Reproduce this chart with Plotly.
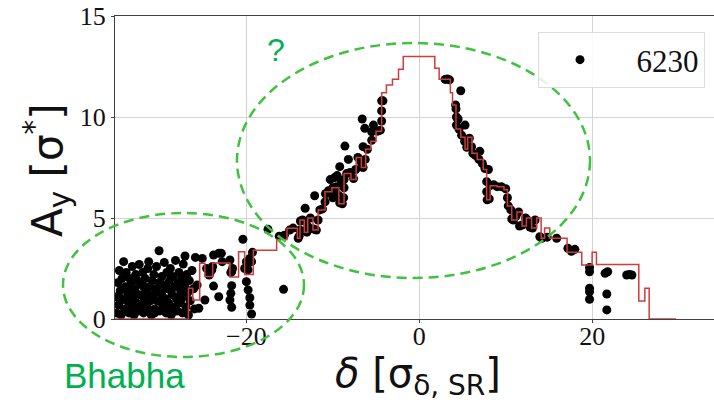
import plotly.graph_objects as go

# ---- data ----
x_ticks = [-20, 0, 20]
y_ticks = [0, 5, 10, 15]
legend_label = "6230"

# red staircase: left edge of each step and its level (line_shape = "hv")
step_delta = [-35.2, -26.7, -26.2, -25.4, -24.8, -23.9, -21.9, -20.9, -20.2, -19.2,
              -16.5, -15.3, -14.1, -13.8, -13.3, -12.9, -12.3, -11.7, -10.9, -10.1,
              -9.3, -8.7, -7.9, -7.3, -6.7, -6.2, -5.6, -5.0, -4.35, -3.8,
              -3.1, -2.4, -1.85, 1.8, 2.3, 3.6, 3.85, 4.25, 4.8, 5.3,
              5.6, 6.1, 6.7, 7.4, 7.8, 8.2, 9.0, 9.8, 10.2, 10.7,
              11.3, 11.9, 12.4, 13.0, 13.6, 14.1, 14.5, 15.1, 17.1, 18.8,
              20.0, 20.5, 25.4, 26.1, 26.6, 29.7]
step_ay = [0, 1.52, 0.94, 2.76, 2.1, 2.77, 2.08, 3.33, 2.2, 3.4,
           3.94, 4.49, 4.0, 4.9, 4.3, 5.0, 4.4, 5.4, 6.3, 6.5,
           5.7, 7.2, 6.9, 8.0, 7.5, 8.4, 8.8, 9.3, 11.2, 11.58,
           11.87, 12.36, 13.0, 12.41, 11.87, 11.2, 10.6, 9.4, 9.0, 8.4,
           9.0, 8.2, 7.9, 7.4, 5.9, 6.6, 6.55, 6.4, 5.6, 4.9,
           5.3, 4.6, 5.0, 4.5, 5.0, 4.0, 4.5, 4.0, 3.3, 2.67,
           3.3, 2.7, 0.89, 1.52, 0, 0]

# black points: Bhabha cluster (left)
bhabha_delta = [-35.0, -35.0, -34.9, -34.8, -34.7, -34.6, -34.5, -34.4, -34.2, -34.2,
                -34.1, -34.0, -33.9, -33.8, -33.7, -33.6, -33.5, -33.4, -33.3, -33.2,
                -33.1, -33.0, -32.9, -32.8, -32.7, -32.6, -32.5, -32.4, -32.3, -32.2,
                -32.1, -32.0, -31.9, -31.8, -31.7, -31.6, -31.5, -31.4, -31.3, -31.2,
                -31.1, -31.0, -30.9, -30.8, -30.7, -30.6, -30.5, -30.4, -30.3, -30.1,
                -30.1, -30.0, -29.9, -29.8, -29.7, -29.6, -29.5, -29.4, -29.3, -29.2,
                -29.1, -29.0, -28.9, -28.8, -28.7, -28.6, -28.5, -28.4, -28.3, -28.2,
                -28.1, -28.0, -27.9, -27.8, -27.7, -27.6, -27.5, -27.4, -27.3, -27.3,
                -27.2, -27.1, -27.0, -26.9, -26.8, -26.7, -26.6, -26.5, -26.3, -26.1,
                -26.0, -25.9, -25.7, -25.5, -25.1, -24.8, -24.3, -24.0, -23.8, -23.8,
                -23.2, -23.2, -22.9, -22.8, -21.9, -21.7, -21.7, -21.8, -21.9, -21.7,
                -20.0, -19.8, -20.0, -19.8, -19.6, -19.6, -19.4, -19.4, -20.4, -17.5,
                -15.7, -24.6, -24.2, -23.9, -21.8, -21.6, -20.2, -19.9, -19.6, -19.3,
                -34.6, -33.9, -33.0, -32.2, -31.4, -30.6, -29.8, -29.0, -28.2, -27.6,
                -34.3, -33.5, -32.7, -31.9, -31.1, -30.3, -29.5, -28.7, -27.9, -27.0]
bhabha_ay = [0.3, 1.1, 1.8, 0.7, 2.4, 1.4, 0.2, 2.0, 2.84, 1.0,
             0.5, 1.6, 2.3, 0.9, 1.3, 0.3, 2.0, 1.7, 0.6, 2.6,
             1.1, 0.2, 1.5, 2.2, 0.8, 1.9, 0.4, 2.7, 1.2, 0.7,
             1.7, 2.3, 0.3, 1.0, 2.0, 1.4, 0.6, 2.5, 2.84, 1.6,
             0.9, 0.2, 1.9, 1.2, 2.2, 0.5, 1.5, 2.6, 0.9, 3.38,
             1.8, 0.4, 1.3, 2.1, 0.7, 1.7, 2.8, 1.0, 0.3, 2.3,
             1.5, 0.8, 1.9, 2.5, 0.2, 1.2, 2.1, 0.6, 1.6, 2.9,
             1.0, 0.4, 1.8, 2.3, 0.8, 1.4, 2.0, 0.3, 2.72, 1.1,
             1.7, 3.12, 0.6, 2.2, 1.3, 0.2, 1.9, 0.9, 2.4, 1.5,
             0.5, 3.05, 1.68, 0.53, 3.0, 0.94, 2.18, 2.43, 3.17, 1.63,
             1.1, 3.25, 3.25, 2.84, 2.92, 2.34, 1.65, 1.27, 0.94, 0.58,
             2.84, 2.43, 1.85, 1.44, 1.05, 0.69, 0.25, 2.84, 3.95, 4.44,
             1.47, 2.5, 2.3, 2.6, 2.3, 2.5, 2.5, 2.7, 3.0, 3.3,
             0.9, 0.4, 1.3, 0.5, 1.1, 0.3, 1.2, 0.5, 0.4, 0.9,
             1.5, 0.9, 0.5, 1.6, 0.4, 1.4, 0.5, 1.4, 1.1, 1.5]

# black points following the staircase (central peak)
core_delta = [-16.2, -15.6, -15.0, -14.6, -14.0, -13.9, -13.8, -13.75, -13.5, -13.2,
              -13.0, -12.9, -12.6, -12.2, -11.9, -11.7, -11.5, -11.2, -10.9, -10.85,
              -10.5, -10.0, -9.6, -9.3, -9.2, -8.9, -8.75, -8.7, -8.7, -8.4,
              -8.0, -7.6, -7.35, -7.1, -6.7, -6.5, -6.25, -6.0, -5.5, -4.8,
              -4.5, -4.35, -4.35, -4.35, -6.6, -6.3, -5.3, -5.5, -8.6, -6.5,
              -8.2, -9.2, -12.1, -13.2, -4.2, -10.3, -9.8, -9.5, -9.0, -10.0,
              -9.6, 4.25, 4.3, 4.3, 4.5, 4.6, 4.9, 5.3, 5.25, 5.5,
              5.8, 6.05, 6.2, 6.5, 7.0, 6.9, 7.3, 7.6, 8.0, 7.8,
              7.8, 7.85, 8.1, 8.2, 8.6, 9.0, 9.5, 10.0, 10.2, 10.3,
              10.6, 10.7, 10.9, 11.2, 11.5, 11.6, 11.9, 12.3, 12.5, 12.8,
              13.1, 13.4, 13.95, 14.2, 14.8, 15.9, 17.2, 18.0, 17.6, 4.8,
              3.0, 3.25, 3.5, 4.2, 19.7, 19.7, 19.7, 19.7, 19.7, 21.5,
              21.8, 21.7, 21.7, 24.0, 24.6, 24.3]
core_ay = [4.1, 4.15, 4.4, 4.5, 4.0, 4.1, 4.4, 4.85, 4.9, 4.35,
           4.3, 4.6, 5.0, 4.45, 4.4, 4.9, 5.4, 5.45, 5.8, 6.2,
           6.35, 6.5, 6.55, 6.1, 5.75, 5.7, 6.0, 6.5, 6.9, 7.2,
           7.25, 6.95, 7.4, 8.0, 7.75, 7.5, 7.9, 8.4, 8.85, 9.3,
           9.35, 9.8, 10.3, 10.8, 9.9, 9.44, 9.6, 9.27, 8.56, 8.53,
           7.9, 7.54, 6.1, 5.48, 10.8, 6.9, 7.0, 7.1, 6.8, 6.0,
           6.2, 10.4, 10.0, 9.6, 9.9, 9.4, 9.1, 9.6, 8.8, 8.5,
           8.95, 8.53, 8.2, 8.1, 8.3, 7.9, 7.7, 7.45, 7.4, 6.8,
           6.3, 5.9, 5.95, 6.6, 6.65, 6.55, 6.55, 6.45, 6.0, 5.6,
           5.4, 4.95, 4.9, 5.1, 5.3, 4.6, 4.65, 5.0, 4.9, 4.55,
           4.5, 4.9, 4.07, 4.0, 4.05, 4.0, 3.5, 3.45, 3.35, 11.3,
           11.86, 11.88, 11.84, 10.6, 2.34, 2.55, 1.52, 1.35, 0.98, 2.26,
           2.34, 1.24, 0.45, 2.18, 2.18, 2.2]

pts_delta = bhabha_delta + core_delta
pts_ay = bhabha_ay + core_ay

fig = go.Figure()
fig.add_trace(go.Scatter(x=pts_delta, y=pts_ay, mode="markers",
                         marker=dict(color="black", size=9, line=dict(width=0)),
                         name="\u2002" + legend_label))
fig.add_trace(go.Scatter(x=step_delta, y=step_ay, mode="lines",
                         line=dict(color="#d13b3b", width=1.5, shape="hv"),
                         showlegend=False, hoverinfo="skip"))

L, T, W, H = 115, 16, 599, 303
def px(xp):
    return (xp - L) / W
def py(yp):
    return (T + H - yp) / H

axis_line = "#404040"
tickfont = dict(family="Liberation Serif", size=26, color="#111111")
fig.update_layout(
    width=714, height=402,
    margin=dict(l=L, r=714 - L - W, t=T, b=402 - T - H),
    plot_bgcolor="white", paper_bgcolor="white",
    xaxis=dict(range=[-35.2, 34.1], tickvals=x_ticks, showgrid=True, gridcolor="#d4d4d4",
               gridwidth=1, zeroline=False, showline=True, linecolor=axis_line, linewidth=1.3,
               mirror=True, ticks="outside", ticklen=3, tickcolor=axis_line,
               tickfont=tickfont, ticklabelstandoff=-9),
    yaxis=dict(range=[0, 15], tickvals=y_ticks, showgrid=True, gridcolor="#d4d4d4",
               gridwidth=1, zeroline=False, showline=True, linecolor=axis_line, linewidth=1.3,
               ticks="outside", ticklen=3, tickcolor=axis_line,
               tickfont=tickfont, ticklabelstandoff=0),
    legend=dict(x=px(538), y=py(32), xanchor="left", yanchor="top",
                bgcolor="rgba(255,255,255,0.85)", bordercolor="#dcdcdc", borderwidth=1,
                font=dict(family="Liberation Serif", size=31, color="#111111"),
                itemwidth=72),
    showlegend=True,
)

green_line = "#3fc23f"
fig.add_shape(type="circle", xref="paper", yref="paper",
              x0=px(237), x1=px(590), y0=py(278), y1=py(43),
              line=dict(color=green_line, width=2.5, dash="10px,6px"), layer="above")
fig.add_shape(type="circle", xref="paper", yref="paper",
              x0=px(63), x1=px(304), y0=py(357), y1=py(213),
              line=dict(color=green_line, width=2.5, dash="10px,6px"), layer="above")

def note(xp, yp, text, font, angle=0):
    fig.add_annotation(x=px(xp), y=py(yp), xref="paper", yref="paper", text=text,
                       showarrow=False, xanchor="center", yanchor="middle",
                       textangle=angle, font=font)

note(276, 50, "?", dict(family="Liberation Sans", size=32, color="#00b050"))
note(124.5, 375, "Bhabha", dict(family="Liberation Sans", size=35, color="#00b050"))
note(417.5, 376, "<i>δ</i> [σ<sub>δ, SR</sub>]",
     dict(family="DejaVu Sans", size=40, color="#111111"))
note(47, 170, "A<sub>y</sub> [σ<sup>*</sup>]",
     dict(family="DejaVu Sans", size=42, color="#111111"), angle=-90)

fig.write_html("out.html")
